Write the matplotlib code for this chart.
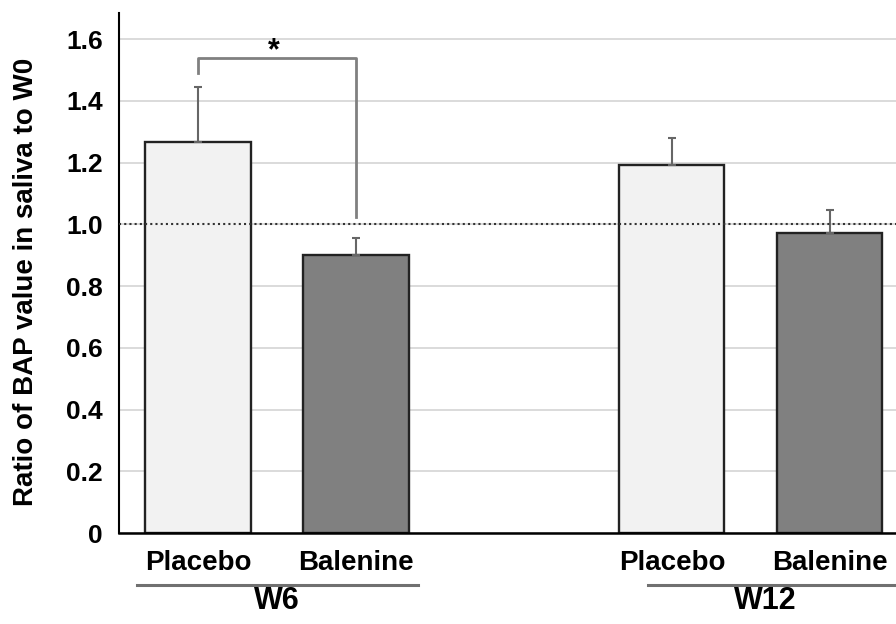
import matplotlib.pyplot as plt
import matplotlib.transforms as mtransforms

plt.rcParams['font.family'] = ['Liberation Sans', 'DejaVu Sans']
plt.rcParams['font.weight'] = 'bold'

# data
groups = ["W6", "W12"]
treatments = ["Placebo", "Balenine"]
means = [1.267, 0.900, 1.192, 0.973]
errors = [0.177, 0.057, 0.087, 0.075]
bar_colors = ["#f2f2f2", "#808080", "#f2f2f2", "#808080"]
positions = [0, 1, 3, 4]
yticks = [0, 0.2, 0.4, 0.6, 0.8, 1.0, 1.2, 1.4, 1.6]
ytick_labels = ["0", "0.2", "0.4", "0.6", "0.8", "1.0", "1.2", "1.4", "1.6"]

fig = plt.figure(figsize=(8.96, 6.24), dpi=100)
ax = fig.add_axes([0.1328, 0.1458, 0.8672, 0.8333])

ax.set_axisbelow(True)
ax.yaxis.grid(True, color="#d4d4d4", lw=1.2)
ax.bar(positions, means, width=0.665, color=bar_colors, edgecolor="#222222",
       linewidth=1.7, zorder=2)
ax.errorbar(positions, means, yerr=[[0] * 4, errors], fmt="none",
            ecolor="#666666", elinewidth=1.5, capsize=3, capthick=1.5, zorder=3)
ax.axhline(1.0, color="#333333", lw=1.5, ls=(0, (1, 1.5)), zorder=4)

# significance bracket
ax.plot([0, 0, 1, 1], [1.49, 1.538, 1.538, 1.025], color="#808080", lw=2, zorder=3)
ax.text(0.48, 1.56, "*", ha="center", va="center", fontsize=22, fontweight="bold")

ax.set_xlim(-0.5, 4.418)
ax.set_ylim(0, 1.685)
ax.set_yticks(yticks)
ax.set_yticklabels(ytick_labels, fontsize=19, fontweight="bold")
ax.tick_params(axis="y", length=0, pad=11.5)
ax.set_xticks([])
for s in ["top", "right"]:
    ax.spines[s].set_visible(False)
ax.spines["left"].set_linewidth(1.5)
ax.spines["bottom"].set_linewidth(1.8)

ax.set_ylabel("Ratio of BAP value in saliva to W0", fontsize=20, fontweight="bold")
ax.yaxis.label.set_va("center")
ax.yaxis.set_label_coords(-0.1197, 0.4837)

trans = mtransforms.blended_transform_factory(ax.transData, ax.transAxes)
for i, p in enumerate(positions):
    ax.text(p, -0.0577, treatments[i % 2], transform=trans, ha="center", va="center",
            fontsize=20, fontweight="bold", clip_on=False)
group_spans = [(-0.385, 1.39), (2.85, 4.6)]
group_centers = [0.5, 3.59]
for g, (x0, x1), c in zip(groups, group_spans, group_centers):
    ax.plot([x0, x1], [-0.1, -0.1], transform=trans, color="#707070", lw=2.2,
            clip_on=False)
    ax.text(c, -0.131, g, transform=trans, ha="center", va="center",
            fontsize=22, fontweight="bold", clip_on=False)

fig.savefig("out.png", dpi=100)
